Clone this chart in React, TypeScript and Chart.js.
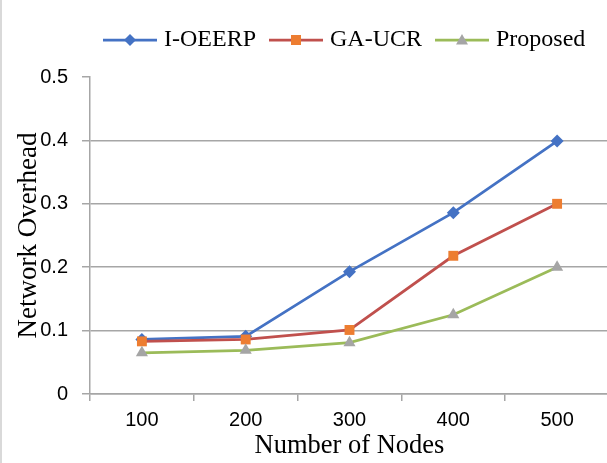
import { useEffect, useRef } from 'react';
import { Chart, registerables } from 'chart.js';

Chart.register(...registerables);

// ---- data ----
const categories = ['100', '200', '300', '400', '500'];
const seriesNames = ['I-OEERP', 'GA-UCR', 'Proposed'];
const ioeerpValues = [0.086, 0.091, 0.193, 0.286, 0.399];
const gaucrValues = [0.083, 0.086, 0.101, 0.218, 0.3];
const proposedValues = [0.065, 0.069, 0.081, 0.125, 0.2];
const yTickValues = [0, 0.1, 0.2, 0.3, 0.4, 0.5];
const yTickLabels = ['0', '0.1', '0.2', '0.3', '0.4', '0.5'];
const xTitle = 'Number of Nodes';
const yTitle = 'Network Overhead';

const lineColors = ['#4472C4', '#C0504D', '#9BBB59'];
const markerColors = ['#4472C4', '#ED7D31', '#A5A5A5'];
const markerStyles = ['rectRot', 'rect', 'triangle'];
const markerRadii = [6.5, 7, 7];
const gridColor = '#a6a6a6';

function makeSample(lineColor: string, markerColor: string, style: string): HTMLCanvasElement {
  const c = document.createElement('canvas');
  c.width = 54;
  c.height = 18;
  const ctx = c.getContext('2d')!;
  ctx.strokeStyle = lineColor;
  ctx.lineWidth = 2.75;
  ctx.beginPath();
  ctx.moveTo(0, 9);
  ctx.lineTo(54, 9);
  ctx.stroke();
  ctx.fillStyle = markerColor;
  ctx.beginPath();
  const cx = 27, cy = 9;
  if (style === 'rectRot') {
    ctx.moveTo(cx, cy - 6);
    ctx.lineTo(cx + 6, cy);
    ctx.lineTo(cx, cy + 6);
    ctx.lineTo(cx - 6, cy);
  } else if (style === 'rect') {
    ctx.rect(cx - 5, cy - 5, 10, 10);
  } else {
    ctx.moveTo(cx, cy - 6);
    ctx.lineTo(cx + 6, cy + 4.5);
    ctx.lineTo(cx - 6, cy + 4.5);
  }
  ctx.closePath();
  ctx.fill();
  return c;
}

export default function App() {
  const ref = useRef<HTMLCanvasElement | null>(null);

  useEffect(() => {
    if (!ref.current) return;
    const seriesData = [ioeerpValues, gaucrValues, proposedValues];
    const samples = seriesNames.map((_, i) => makeSample(lineColors[i], markerColors[i], markerStyles[i]));

    const chart = new Chart(ref.current, {
      type: 'line',
      data: {
        labels: categories,
        datasets: seriesNames.map((name, i) => ({
          label: name,
          data: seriesData[i],
          borderColor: lineColors[i],
          backgroundColor: markerColors[i],
          borderWidth: 2.75,
          pointStyle: markerStyles[i] as any,
          pointRadius: markerRadii[i],
          pointBackgroundColor: markerColors[i],
          pointBorderColor: markerColors[i],
          pointBorderWidth: 0,
          tension: 0,
          fill: false,
          order: 3 - i,
        })),
      },
      options: {
        animation: false,
        responsive: false,
        maintainAspectRatio: false,
        layout: { padding: { top: 10, left: 0, right: 0, bottom: 0 } },
        plugins: {
          tooltip: { enabled: false },
          legend: {
            position: 'top',
            align: 'start',
            fullSize: false,
            labels: {
              usePointStyle: true,
              pointStyleWidth: 44,
              padding: 18,
              color: '#000',
              font: { family: '"Liberation Serif"', size: 24 },
              generateLabels: () =>
                seriesNames.map((name, i) => ({
                  text: name,
                  pointStyle: samples[i] as any,
                  fillStyle: markerColors[i],
                  strokeStyle: lineColors[i],
                  lineWidth: 0,
                  hidden: false,
                  datasetIndex: i,
                  fontColor: '#000',
                })),
            },
          },
          subtitle: {
            display: true,
            text: '',
            weight: 500,
            padding: 0,
            font: { size: 10, lineHeight: '15px' },
          } as any,
        },
        scales: {
          x: {
            offset: true,
            afterFit: (s: any) => {
              s.height = 69;
            },
            ticks: {
              padding: 7,
              color: '#000',
              font: { family: '"Liberation Sans"', size: 20 },
            },
            grid: {
              offset: true,
              drawOnChartArea: false,
              color: gridColor,
              tickColor: gridColor,
              lineWidth: 1.5,
              tickLength: 7,
            },
            border: { display: true, color: gridColor, width: 1.5 },
            title: {
              display: true,
              text: xTitle,
              color: '#000',
              font: { family: '"Liberation Serif"', size: 26.5 },
              padding: { top: 0, bottom: 1 },
            },
          },
          y: {
            min: 0,
            max: 0.5,
            afterFit: (s: any) => {
              s.width = 90;
            },
            ticks: {
              stepSize: 0.1,
              padding: 14,
              color: '#000',
              font: { family: '"Liberation Sans"', size: 20 },
              callback: (v: any) => {
                const idx = yTickValues.findIndex((t) => Math.abs(t - Number(v)) < 1e-6);
                return idx >= 0 ? yTickLabels[idx] : '';
              },
            },
            grid: {
              color: (ctx: any) =>
                ctx.tick && ctx.tick.value > 0.49 ? 'rgba(0,0,0,0)' : gridColor,
              tickColor: gridColor,
              lineWidth: 1.5,
              tickLength: 8,
            },
            border: { display: true, color: gridColor, width: 1.5 },
            title: {
              display: true,
              text: yTitle,
              color: '#000',
              font: { family: '"Liberation Serif"', size: 27 },
              padding: { top: 13, bottom: 0 },
            },
          },
        },
      },
    });
    return () => chart.destroy();
  }, []);

  return (
    <div
      style={{
        position: 'absolute',
        left: 0,
        top: 0,
        width: 607,
        height: 463,
        overflow: 'hidden',
        background: '#fff',
        boxShadow: 'inset 2px 0 0 #d9d9d9',
      }}
    >
      <canvas ref={ref} width={616} height={463} style={{ display: 'block' }} />
    </div>
  );
}
